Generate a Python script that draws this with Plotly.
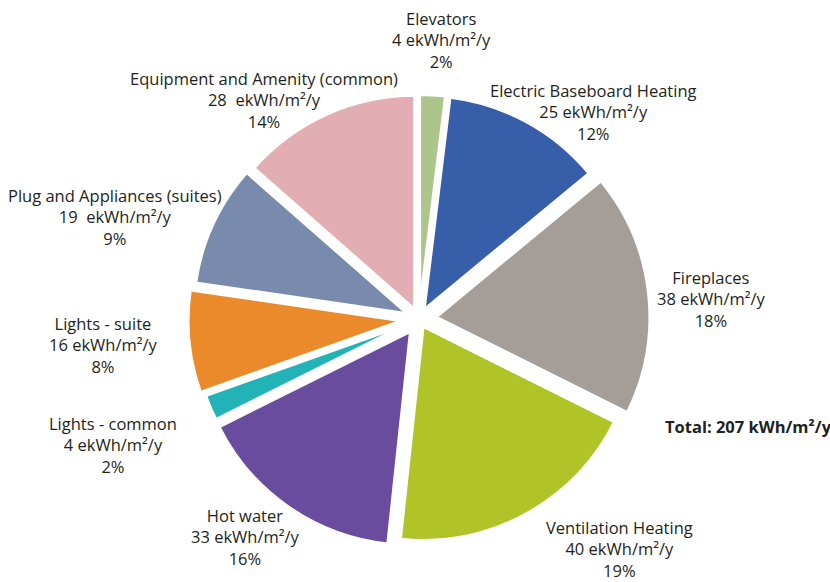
import plotly.graph_objects as go

W, H = 830, 582

categories = ["Elevators", "Electric Baseboard Heating", "Fireplaces", "Ventilation Heating",
              "Hot water", "Lights - common", "Lights - suite", "Plug and Appliances (suites)",
              "Equipment and Amenity (common)"]
values = [4, 25, 38, 40, 33, 4, 16, 19, 28]
percents = ["2%", "12%", "18%", "19%", "16%", "2%", "8%", "9%", "14%"]
value_labels = ["4 ekWh/m²/y", "25 ekWh/m²/y", "38 ekWh/m²/y", "40 ekWh/m²/y", "33 ekWh/m²/y",
                "4 ekWh/m²/y", "16 ekWh/m²/y", "19  ekWh/m²/y", "28  ekWh/m²/y"]
colors = ["#abc58b", "#375ea9", "#a59e98", "#b0c327", "#694c9e", "#22b3b9", "#eb8a2b", "#788bac", "#e2aeb4"]
pulls = [0.05, 0.05, 0.08, 0.04, 0.07, 0.06, 0.08, 0.06, 0.05]
total_label = "Total: 207 kWh/m²/y"

# label centres (pixels) for each slice's text block (middle line)
label_pos = [(441, 40), (593, 112), (711, 299), (619, 549), (245, 537),
             (113, 445), (103, 345), (115, 217), (264, 100)]

fig = go.Figure(go.Pie(
    labels=categories, values=values, sort=False, direction="clockwise", rotation=0,
    marker=dict(colors=colors, line=dict(color="white", width=3)),
    pull=pulls, textinfo="none", hoverinfo="label+value+percent",
    domain=dict(x=[188 / W, 650 / W], y=[1 - 550 / H, 1 - 88 / H]),
    showlegend=False,
))

font = dict(family="Open Sans, sans-serif", size=16.5, color="#231f20")
for cat, vl, pc, (px, py) in zip(categories, value_labels, percents, label_pos):
    fig.add_annotation(x=px / W, y=1 - py / H, xref="paper", yref="paper",
                       text=f"{cat}<br>{vl}<br>{pc}", showarrow=False, align="center",
                       xanchor="center", yanchor="middle", font=font)

fig.add_annotation(x=663 / W, y=1 - 426 / H, xref="paper", yref="paper", text=f"<b>{total_label}</b>",
                   showarrow=False, xanchor="left", yanchor="middle",
                   font=dict(family="Open Sans, sans-serif", size=16.5, color="#231f20"))

fig.update_layout(width=W, height=H, margin=dict(l=0, r=0, t=0, b=0),
                  paper_bgcolor="white", plot_bgcolor="white")
fig.write_html("out.html")
